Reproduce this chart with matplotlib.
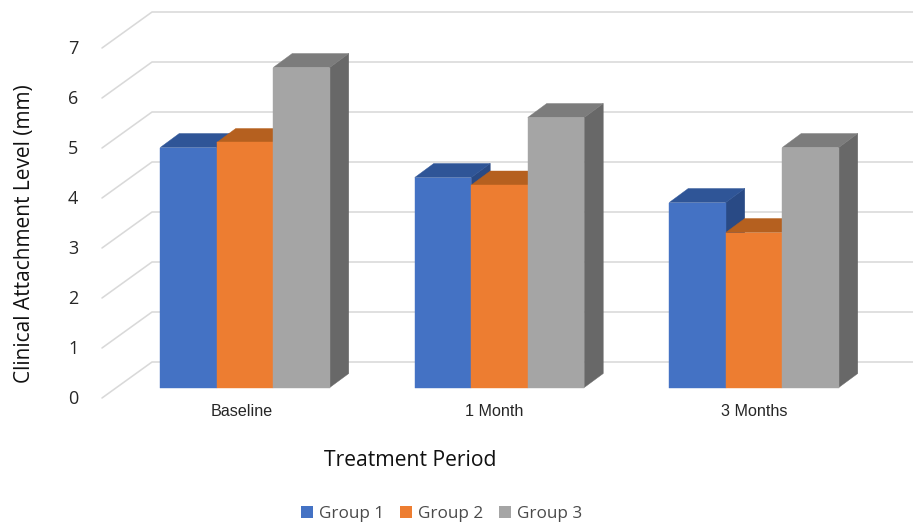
import matplotlib
matplotlib.use("Agg")
import matplotlib.pyplot as plt
from matplotlib.patches import Patch, Polygon
from matplotlib.transforms import ScaledTranslation

categories = ["Baseline", "1 Month", "3 Months"]
group_names = ["Group 1", "Group 2", "Group 3"]
group_1 = [4.8, 4.2, 3.7]
group_2 = [4.9, 4.05, 3.1]
group_3 = [6.4, 5.4, 4.8]
y_ticks = [0, 1, 2, 3, 4, 5, 6, 7]

front_colors = ["#4472C4", "#ED7D31", "#A5A5A5"]
top_colors = ["#2F5597", "#B5601F", "#7C7C7C"]
side_colors = ["#294A85", "#A85A1E", "#686868"]
GRID = "#D9D9D9"
TEXT = "#262626"
UI_FONT = ["Open Sans", "DejaVu Sans"]

W, H = 913, 523
fig = plt.figure(figsize=(W / 100, H / 100), dpi=100, facecolor="white")
L, R, B, T = 102, 913, 398, 48
ax = fig.add_axes([L / W, 1 - B / H, (R - L) / W, (B - T) / H])

PX_PER_CAT = 254.5
PX_PER_UNIT = (B - T) / 7
CENTER0 = 245
ax.set_xlim((L - CENTER0) / PX_PER_CAT, (R - CENTER0) / PX_PER_CAT)
ax.set_ylim(0, 7)
for s in ax.spines.values():
    s.set_visible(False)

def dx(px):
    return px / PX_PER_CAT

def dy(px):
    return px / PX_PER_UNIT

# walls: gridlines run from the front-left corner up to the back wall, then right
for v in y_ticks:
    ax.plot([ax.get_xlim()[0], ax.get_xlim()[0] + dx(50), ax.get_xlim()[1]],
            [v, v + dy(36), v + dy(36)],
            color=GRID, lw=1.15, clip_on=False, zorder=1, solid_capstyle="round")

bar_w = dx(56.5)
base = dy(10.5)
depth_x, depth_y = dx(19), dy(14)
series = [group_1, group_2, group_3]
z = 2
for i in range(len(categories)):
    for g, vals in enumerate(series):
        x0 = i + (g - 1.5) * bar_w
        x1 = x0 + bar_w
        top = base + vals[i]
        faces = [
            ([(x1, base), (x1 + depth_x, base + depth_y), (x1 + depth_x, top + depth_y), (x1, top)], side_colors[g]),
            ([(x0, top), (x1, top), (x1 + depth_x, top + depth_y), (x0 + depth_x, top + depth_y)], top_colors[g]),
            ([(x0, base), (x1, base), (x1, top), (x0, top)], front_colors[g]),
        ]
        for pts, c in faces:
            ax.add_patch(Polygon(pts, closed=True, facecolor=c, edgecolor=c, lw=0.3, clip_on=False, zorder=z))
            z += 1

ax.set_yticks(y_ticks)
ax.set_yticklabels([str(v) for v in y_ticks], family=UI_FONT, fontsize=13, color=TEXT)
ax.tick_params(axis="y", length=0, pad=17)
for lab in ax.get_yticklabels():
    lab.set_transform(lab.get_transform() + ScaledTranslation(0, 1 / 100, fig.dpi_scale_trans))

ax.set_xticks(range(len(categories)))
ax.set_xticklabels(categories, family="Liberation Sans", fontsize=11.6, color=TEXT)
ax.tick_params(axis="x", length=0, pad=4)
offsets = [-3.5, -5, 0.5]
for lab, off in zip(ax.get_xticklabels(), offsets):
    lab.set_transform(lab.get_transform() + ScaledTranslation(off / 100, 0, fig.dpi_scale_trans))

fig.text(25 / W, 1 - 234 / H, "Clinical Attachment Level (mm)", rotation=90, family=UI_FONT,
         fontsize=15, color="#111111", ha="center", va="center")
fig.text(410.5 / W, 1 - 460.5 / H, "Treatment Period", family=UI_FONT,
         fontsize=15.2, color="#111111", ha="center", va="center")

handles = [Patch(facecolor=c, edgecolor=c, lw=0) for c in front_colors]
leg = fig.legend(handles, group_names, loc="center", bbox_to_anchor=(441.5 / W, 1 - 513.5 / H),
                 ncol=3, frameon=False, handlelength=0.7, handleheight=0.7,
                 handletextpad=0.35, columnspacing=0.95, borderpad=0,
                 prop={"family": UI_FONT, "size": 12.3})
for t in leg.get_texts():
    t.set_color("#4A4A4A")

fig.savefig("out.png", dpi=100, facecolor="white")
